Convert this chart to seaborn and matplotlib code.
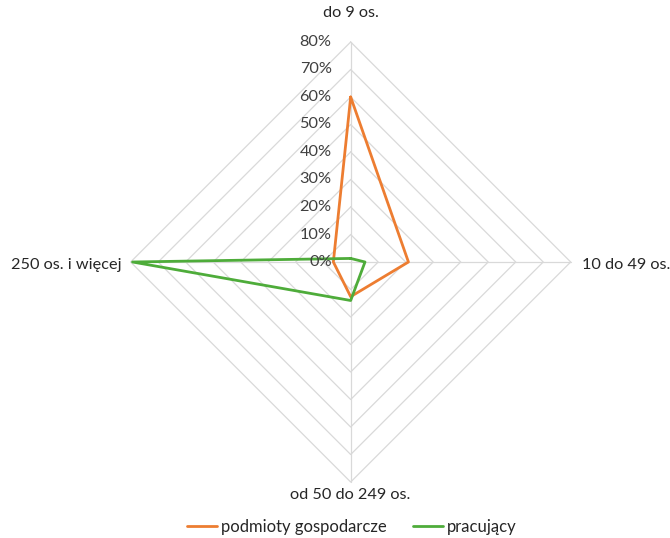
import numpy as np
import pandas as pd
import matplotlib
matplotlib.use("Agg")
import matplotlib.pyplot as plt
import seaborn as sns

categories = ["do 9 os.", "10 do 49 os.", "od 50 do 249 os.", "250 os. i więcej"]
podmioty = [0.60, 0.21, 0.126, 0.063]
pracujacy = [0.013, 0.052, 0.14, 0.793]
series_names = ["podmioty gospodarcze", "pracujący"]
tick_values = [0.0, 0.1, 0.2, 0.3, 0.4, 0.5, 0.6, 0.7, 0.8]
tick_labels = ["0%", "10%", "20%", "30%", "40%", "50%", "60%", "70%", "80%"]

sns.set_theme(style="white")
plt.rcParams["font.family"] = ["Lato", "DejaVu Sans"]

fig = plt.figure(figsize=(6.7, 5.38), dpi=100)
ax = fig.add_axes([0, 0, 1, 1])
ax.set_xlim(-1.275, 1.161)
ax.set_ylim(-1.0036, 0.9527)
ax.axis("off")

n = len(categories)
angles = np.array([i * 2 * np.pi / n for i in range(n)])
sx, sy = np.sin(angles), np.cos(angles)

grid_c = "#d9d9d9"
rmax = tick_values[-1]
for r in tick_values[1:]:
    ax.plot(np.append(r * sx, r * sx[0]), np.append(r * sy, r * sy[0]),
            color=grid_c, lw=0.9, zorder=1)
for i in range(n):
    ax.plot([0, rmax * sx[i]], [0, rmax * sy[i]], color=grid_c, lw=0.9, zorder=1)

rows = []
for name, vals in zip(series_names, [podmioty, pracujacy]):
    for k in range(n + 1):
        i = k % n
        rows.append({"series": name, "order": k,
                     "x": vals[i] * sx[i], "y": vals[i] * sy[i]})
df = pd.DataFrame(rows)
palette = {"podmioty gospodarcze": "#ED7D31", "pracujący": "#4EAC3A"}
sns.lineplot(data=df, x="x", y="y", hue="series", palette=palette, sort=False,
             estimator=None, units="series", lw=2.0, ax=ax, legend=False, zorder=3)

for v, lab in zip(tick_values, tick_labels):
    ax.text(-0.069, v, lab, ha="right", va="center", fontsize=11.7, color="#404040")

fs = 11.7
ax.text(0.0, 0.905, categories[0], ha="center", va="center", fontsize=fs, color="#262626")
ax.text(0.842, -0.01, categories[1], ha="left", va="center", fontsize=fs, color="#262626")
ax.text(0.0, -0.847, categories[2], ha="center", va="center", fontsize=fs, color="#262626")
ax.text(-0.831, -0.01, categories[3], ha="right", va="center", fontsize=fs, color="#262626")

from matplotlib.lines import Line2D
handles = [Line2D([], [], color=palette[s], lw=2.0) for s in series_names]
fig.legend(handles, series_names, loc="lower center", bbox_to_anchor=(0.525, -0.022),
           ncol=2, frameon=False, fontsize=12, handlelength=1.8, handletextpad=0.2,
           columnspacing=1.6)

fig.savefig("out.png", dpi=100)
